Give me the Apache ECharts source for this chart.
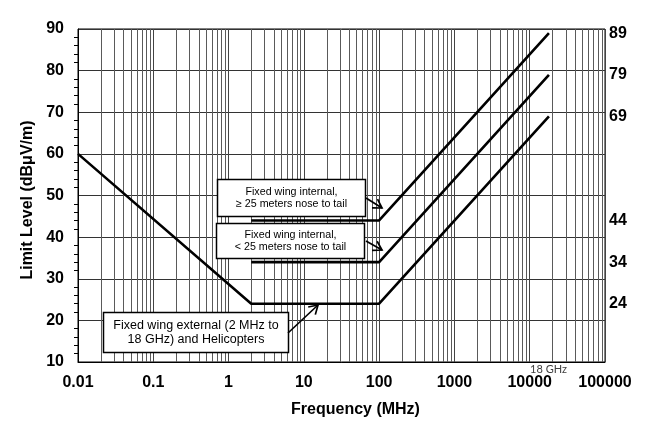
<!DOCTYPE html>
<html>
<head>
<meta charset="utf-8">
<script src="https://cdn.jsdelivr.net/npm/echarts@6/dist/echarts.min.js"></script>
<style>
html,body{margin:0;padding:0;background:#fff;}
#c{width:647px;height:437px;}
</style>
</head>
<body>
<div id="c"></div>
<script>
// ---- data ----
var extFreq = [0.01, 2, 100, 18000];
var extLevel = [60, 24, 24, 69];
var intLongFreq = [2, 100, 18000];
var intLongLevel = [44, 44, 89];
var intShortFreq = [2, 100, 18000];
var intShortLevel = [34, 34, 79];
var xTicks = [0.01, 0.1, 1, 10, 100, 1000, 10000, 100000];
var rightTicks = [24, 34, 44, 69, 79, 89];
var boxTexts = [
  'Fixed wing internal,\n\u2265 25 meters nose to tail',
  'Fixed wing internal,\n< 25 meters nose to tail',
  'Fixed wing external (2 MHz to\n18 GHz) and Helicopters'
];

function pairs(xs, ys){ return xs.map(function(x,i){ return [x, ys[i]]; }); }

// minor log grid positions (2..9 in each decade)
var minorX = [];
for (var d = -2; d < 5; d++) {
  for (var m = 2; m <= 9; m++) minorX.push([m * Math.pow(10, d)]);
}

var FONT = 'Liberation Sans, Arial, sans-serif';

var chart = echarts.init(document.getElementById('c'), null, {renderer: 'canvas'});

function arrow(x1, y1, x2, y2) {
  var ang = Math.atan2(y2 - y1, x2 - x1);
  var L = 10, a = 0.55;
  var p1 = [x2 - L * Math.cos(ang - a), y2 - L * Math.sin(ang - a)];
  var p2 = [x2 - L * Math.cos(ang + a), y2 - L * Math.sin(ang + a)];
  return [
    {type: 'line', shape: {x1: x1, y1: y1, x2: x2, y2: y2}, style: {stroke: '#000', lineWidth: 1.7}, z: 100},
    {type: 'polyline', shape: {points: [p1, [x2, y2], p2]}, style: {stroke: '#000', lineWidth: 1.7, fill: null, lineJoin: 'miter'}, z: 100}
  ];
}

function box(x, y, w, h, text, fs, lh) {
  return [
    {type: 'rect', shape: {x: x + 0.5, y: y + 0.5, width: w, height: h}, style: {fill: '#fff', stroke: '#000', lineWidth: 1.5}, z: 100},
    {type: 'text', x: x + w / 2 + 0.5, y: y + h / 2 + 0.5, style: {text: text, font: fs + 'px ' + FONT, fill: '#000', align: 'center', verticalAlign: 'middle', lineHeight: lh}, z: 101}
  ];
}

var graphics = []
  .concat(box(217, 179, 148, 37, boxTexts[0], 10.7, 12))
  .concat(arrow(366, 198, 382, 208))
  .concat(box(216, 223, 148, 35, boxTexts[1], 10.7, 12))
  .concat(arrow(366, 241, 382, 250))
  .concat(box(103, 312, 185, 40, boxTexts[2], 12.5, 14))
  .concat(arrow(288, 333, 318, 305))
  .concat([
    {type: 'text', x: 355.5, y: 410, style: {text: 'Frequency (MHz)', font: 'bold 16px ' + FONT, fill: '#000', align: 'center', verticalAlign: 'middle'}},
    {type: 'text', x: 28, y: 200, rotation: Math.PI / 2, style: {text: 'Limit Level (dB\u03bcV/m)', font: 'bold 16px ' + FONT, fill: '#000', align: 'center', verticalAlign: 'middle'}},
    {type: 'text', x: 548.5, y: 369, style: {text: '18 GHz', font: '11px Lato, "Open Sans", sans-serif', fill: '#404040', align: 'center', verticalAlign: 'middle'}}
  ]);

var lineStyle = {color: '#000', width: 2.6};

chart.setOption({
  animation: false,
  backgroundColor: '#fff',
  grid: {left: 78, right: 42, top: 29, bottom: 75, show: true, borderColor: '#000', borderWidth: 1, backgroundColor: 'transparent'},
  xAxis: {
    type: 'log', logBase: 10, min: 0.01, max: 100000,
    axisLine: {show: true, lineStyle: {color: '#000', width: 1}},
    axisTick: {show: false},
    splitLine: {show: true, lineStyle: {color: '#444', width: 1}},
    axisLabel: {
      margin: 13, color: '#000', fontSize: 16, fontWeight: 'bold', fontFamily: FONT,
      formatter: function (v) {
        for (var i = 0; i < xTicks.length; i++) {
          if (Math.abs(Math.log10(v) - Math.log10(xTicks[i])) < 1e-6) return String(xTicks[i]);
        }
        return '';
      }
    }
  },
  yAxis: [
    {
      type: 'value', min: 10, max: 90, interval: 10, position: 'left',
      axisLine: {show: true, lineStyle: {color: '#000', width: 1}},
      axisTick: {show: false},
      minorTick: {show: true, splitNumber: 5, length: 4, lineStyle: {color: '#000'}},
      splitLine: {show: true, lineStyle: {color: '#333', width: 1}},
      axisLabel: {margin: 14, color: '#000', fontSize: 16, fontWeight: 'bold', fontFamily: FONT}
    },
    {
      type: 'value', min: 10, max: 90, interval: 1, position: 'right',
      axisLine: {show: false}, axisTick: {show: false}, splitLine: {show: false},
      axisLabel: {
        margin: 4, color: '#000', fontSize: 16, fontWeight: 'bold', fontFamily: FONT,
        formatter: function (v) { return rightTicks.indexOf(Math.round(v)) >= 0 ? String(Math.round(v)) : ''; }
      }
    }
  ],
  series: [
    {
      type: 'custom', silent: true, z: 1,
      data: minorX,
      renderItem: function (params, api) {
        var top = api.coord([api.value(0), 90]);
        var bot = api.coord([api.value(0), 10]);
        var x = Math.round(top[0]) + 0.5;
        return {type: 'line', shape: {x1: x, y1: top[1], x2: x, y2: bot[1]}, style: {stroke: '#5a5a5a', lineWidth: 1}};
      },
      encode: {x: 0}
    },
    {type: 'line', data: pairs(extFreq, extLevel), showSymbol: false, lineStyle: lineStyle, z: 10},
    {type: 'line', data: pairs(intLongFreq, intLongLevel), showSymbol: false, lineStyle: lineStyle, z: 10},
    {type: 'line', data: pairs(intShortFreq, intShortLevel), showSymbol: false, lineStyle: lineStyle, z: 10}
  ],
  graphic: graphics
});
</script>
</body>
</html>
